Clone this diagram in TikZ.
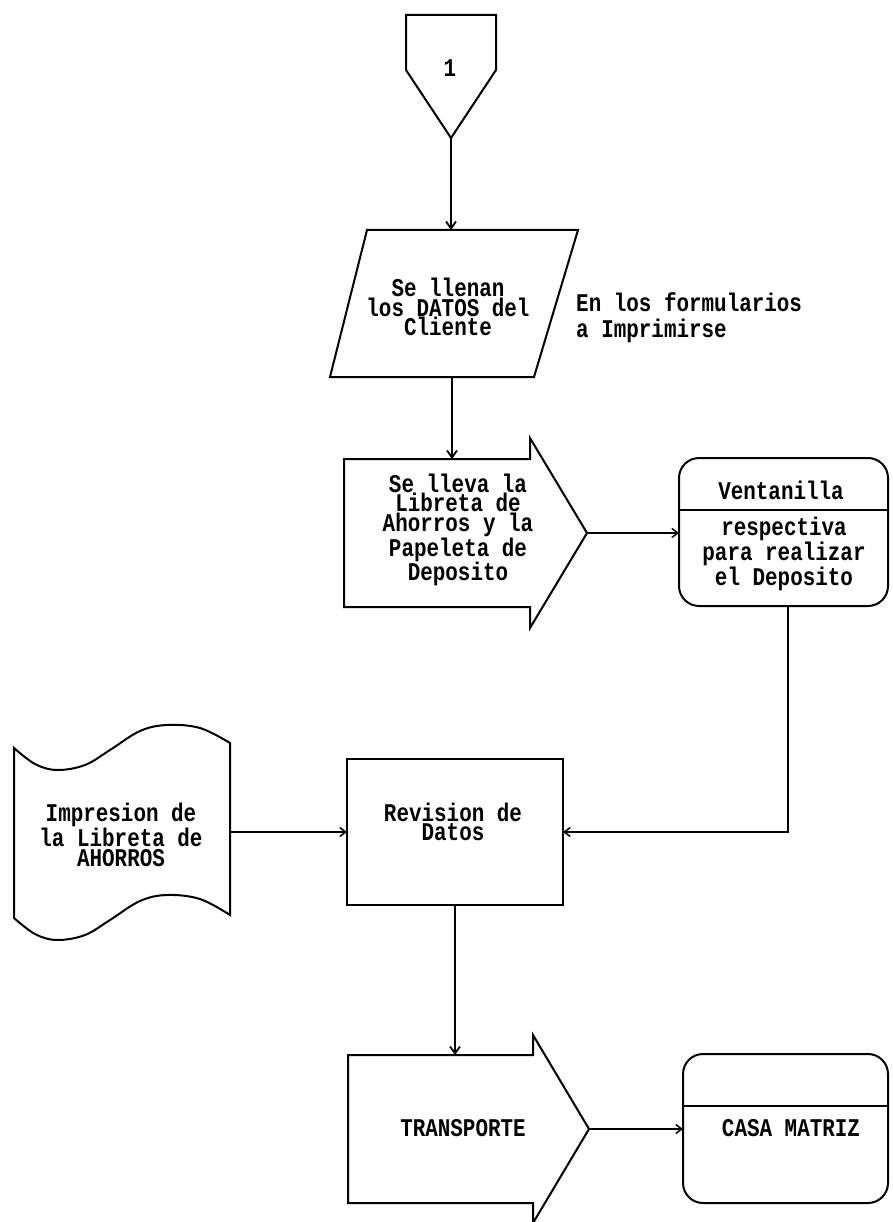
\documentclass[tikz,border=0pt]{standalone}
\usepackage{fontspec}
\newfontfamily\dotfont[FakeStretch=0.82]{Liberation Mono}
\usetikzlibrary{arrows.meta}
\begin{document}
\begin{tikzpicture}[x=1pt,y=-1pt,
  shapeline/.style={line width=2pt, line join=miter},
  conn/.style={line width=2.6pt, -{Straight Barb[length=7pt,width=10pt,line width=1.8pt]}},
  hconn/.style={line width=1.7pt, -{Straight Barb[length=6pt,width=9pt,line width=1.5pt]}},
  txt/.style={font={\dotfont\bfseries\fontsize{25.5pt}{19.5pt}\selectfont}, align=center, inner sep=0pt},
  tighttxt/.style={txt, font={\dotfont\bfseries\fontsize{25.5pt}{16pt}\selectfont}},
  box/.style={inner sep=0pt, outer sep=0pt},
  term/.style={box, draw, line width=2pt, rounded corners=20pt}]
\useasboundingbox[fill=white] (0,0) rectangle (893,1222);

% off-page connector
\node[box, minimum width=90pt, minimum height=123pt] (c1) at (451,76.5) {};
\draw[shapeline] (c1.north west) -- (c1.north east) -- (496,70) -- (c1.south) -- (406,70) -- cycle;
\node[txt] (c1t) at (450,68) {1};

% parallelogram
\node[box, minimum width=248pt, minimum height=147pt] (par) at (452,303.5) {};
\draw[shapeline] (367,230) -- (578,230) -- (534,377) -- (330,377) -- cycle;
\node[tighttxt] (part) at (448,307) {Se llenan\\los DATOS del\\Cliente};
\node[txt, anchor=west] (note1) at (576,302) {En los formularios};
\node[txt, anchor=west] (note2) at (576,331) {a Imprimirse};

% process arrow 1
\node[box, minimum width=186pt, minimum height=148pt] (p1) at (437,533) {};
\draw[shapeline] (p1.north west) -- (p1.north east) -- ++(0,-21) -- (587,533) coordinate (p1tip)
  -- (530,628) -- (p1.south east) -- (p1.south west) -- cycle;
\node[txt] (p1t) at (458,530) {Se lleva la\\Libreta de\\Ahorros y la\\Papeleta de\\Deposito};

% Ventanilla
\node[term, minimum width=209pt, minimum height=148pt] (vent) at (783.5,532) {};
\draw[shapeline] (vent.west |- 0,510) -- (vent.east |- 0,510);
\node[txt] (ventt) at (781,490) {Ventanilla};
\node[txt] (ventb) at (784,554) {respectiva\\para realizar\\el Deposito};
\coordinate (vdrop) at ([xshift=4.5pt]vent.south);

% document
\node[box, minimum width=216pt, minimum height=170pt] (doc) at (122,832) {};
\draw[shapeline] plot[smooth, tension=0.6] coordinates {(14,748) (35,764) (57,770) (85,765) (110,750) (140,731) (167,725) (200,728) (230,743)}
  -- plot[smooth, tension=0.6] coordinates {(230,915) (200,899) (167,895) (140,901) (110,920) (85,935) (57,940) (35,934) (14,918)} -- cycle;
\node[txt] (doct) at (121,835) {Impresion de\\la Libreta de\\AHORROS};

% Revision
\node[box, draw, line width=2pt, minimum width=216pt, minimum height=146pt] (rev) at (455,832) {};
\node[txt] (revt) at (453,822) {Revision de\\Datos};

% Transporte
\node[box, minimum width=185pt, minimum height=148pt] (tr) at (440.5,1129) {};
\draw[shapeline] (tr.north west) -- (tr.north east) -- ++(0,-20) -- (589,1129) coordinate (trtip)
  -- (533,1223) -- (tr.south east) -- (tr.south west) -- cycle;
\node[txt] (trt) at (463,1128) {TRANSPORTE};

% Casa Matriz
\node[term, minimum width=205pt, minimum height=149pt] (casa) at (785.5,1128.5) {};
\draw[shapeline] (casa.west |- 0,1106) -- (casa.east |- 0,1106);
\node[txt] (casat) at (791,1128) {CASA MATRIZ};

% connectors
\draw[conn] (c1.south) -- (c1.south |- par.north);
\draw[conn] (par.south) -- (par.south |- p1.north);
\draw[hconn] (p1tip) -- (p1tip -| vent.west);
\draw[hconn] (vdrop) |- (rev.east);
\draw[hconn] (doc.east) -- (rev.west);
\draw[conn] (rev.south) -- (rev.south |- tr.north);
\draw[hconn] (trtip) -- (trtip -| casa.west);
\end{tikzpicture}
\end{document}
